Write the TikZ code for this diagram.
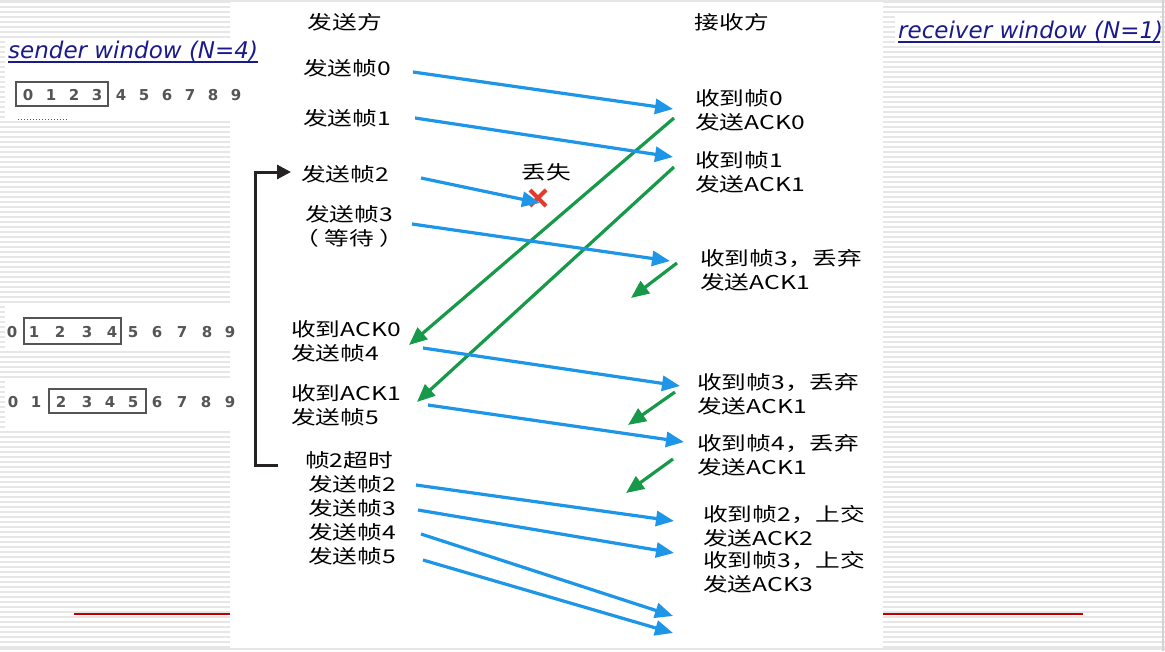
\documentclass[tikz,border=0pt]{standalone}
\usepackage{fontspec}
\setmainfont{DejaVu Sans}
\newfontfamily\cjk[FakeStretch=1.3]{Noto Sans CJK SC}
\newfontfamily\latf{DejaVu Sans}
\newfontfamily\winf{DejaVu Sans Oblique}
\usetikzlibrary{arrows.meta}
\definecolor{ablue}{HTML}{1E96E8}
\definecolor{agreen}{HTML}{17994A}
\definecolor{navyc}{HTML}{1A1A8C}
\definecolor{stripec}{HTML}{E6E6E6}
\definecolor{xred}{HTML}{E23B2E}
\definecolor{brk}{HTML}{262222}
\definecolor{digc}{HTML}{555555}
\begin{document}
\begin{tikzpicture}[x=1pt,y=-1pt,
  lbl/.style={font=\cjk\fontsize{19}{24}\selectfont, inner sep=0pt, align=center},
  rlbl/.style={font=\cjk\fontsize{19}{24}\selectfont, inner sep=0pt, anchor=west, align=left},
  winlbl/.style={font=\winf\fontsize{23}{26}\selectfont, text=navyc, inner sep=0pt, anchor=base west},
  dig/.style={font=\latf\bfseries\fontsize{15}{16}\selectfont, text=digc, inner sep=0pt},
  winbox/.style={draw=digc, line width=1.5pt},
  barrow/.style={draw=ablue, line width=3.2pt, -{Triangle[length=18pt,width=15pt]}},
  garrow/.style={draw=agreen, line width=3.2pt, -{Triangle[length=18pt,width=15pt]}},
]
\useasboundingbox (0,0) rectangle (1165,651);
\fill[white] (0,0) rectangle (1165,651);
% striped background
\foreach \y in {2,7,...,647}{
  \draw[stripec, line width=1.6pt] (0,\y) -- (230,\y) (883,\y) -- (1165,\y);
}
\fill[white] (5,38) rectangle (230,118);
\fill[white] (5,305) rectangle (230,350);
\fill[white] (5,380) rectangle (230,430);
\fill[white] (895,16) rectangle (1160,46);
\draw[stripec, line width=1.6pt] (0,1) -- (1165,1);
\draw[stripec, line width=1.6pt] (0,649) -- (1165,649);
\draw[gray!35, line width=1.5pt] (1163,0) -- (1163,651);
% red rules
\draw[red!75!black, line width=1.2pt] (74,614) -- (230,614) (883,614) -- (1083,614);

% window titles
\node[winlbl] (sw) at (8,58) {sender window (N=4)};
\draw[navyc, line width=1.5pt] (sw.base west) ++(0,4) -- ++(250,0);
\node[winlbl] (rw) at (898,38) {receiver window (N=1)};
\draw[navyc, line width=1.5pt] (rw.base west) ++(0,4) -- ++(262,0);

% sender window rows
\foreach \d/\x in {0/28,1/51,2/74,3/97,4/121,5/144,6/167,7/190,8/213,9/236}
  \node[dig] (ra\d) at (\x,95) {\d};
\draw[winbox] (16,82) rectangle (108,106);
\draw[digc, dotted, line width=1pt] (18,119) -- (68,119);
\foreach \d/\x in {0/12,1/34,2/60,3/87,4/112,5/133,6/157,7/182,8/207,9/230}
  \node[dig] (rb\d) at (\x,332) {\d};
\draw[winbox] (24,318) rectangle (121,344);
\foreach \d/\x in {0/13,1/36,2/61,3/87,4/110,5/133,6/157,7/182,8/206,9/230}
  \node[dig] (rc\d) at (\x,402) {\d};
\draw[winbox] (49,389) rectangle (146,413);

% headers
\node[lbl] (hs) at (345,22) {发送方};
\node[lbl] (hr) at (732,22) {接收方};

% sender labels
\node[lbl] (s0) at (347,68) {发送帧0};
\node[lbl] (s1) at (347,118) {发送帧1};
\node[lbl] (s2) at (345,174) {发送帧2};
\node[lbl] (s3) at (349,226) {发送帧3\\（ 等待 ）};
\node[lbl, align=left] (s4) at (346,341) {收到ACK0\\发送帧4};
\node[lbl, align=left] (s5) at (346,405) {收到ACK1\\发送帧5};
\node[lbl] (to) at (349,460) {帧2超时};
\node[lbl] (t2) at (352,484) {发送帧2};
\node[lbl] (t3) at (352,508) {发送帧3};
\node[lbl] (t4) at (352,532) {发送帧4};
\node[lbl] (t5) at (352,556) {发送帧5};

% receiver labels
\node[rlbl] (r0) at (695,110) {收到帧0\\发送ACK0};
\node[rlbl] (r1) at (695,172) {收到帧1\\发送ACK1};
\node[rlbl] (r3) at (700,270) {收到帧3，丢弃\\发送ACK1};
\node[rlbl] (r3b) at (697,394) {收到帧3，丢弃\\发送ACK1};
\node[rlbl] (r4) at (697,455) {收到帧4，丢弃\\发送ACK1};
\node[rlbl] (r2u) at (703,526) {收到帧2，上交\\发送ACK2};
\node[rlbl] (r3u) at (703,572) {收到帧3，上交\\发送ACK3};

\node[lbl] (lost) at (546,172) {丢失};

% lost mark
\coordinate (xm) at (538,198);
\draw[xred, line width=4pt] (530,190) -- (546,206) (546,190) -- (530,206);

% bracket
\coordinate (bk0) at (278,465);
\coordinate (bk1) at (255,465);
\coordinate (bk2) at (255,172);
\coordinate (bk3) at (291,172);
\draw[brk, line width=3pt, -{Triangle[length=14pt,width=14pt]}] (bk0) -- (bk1) -- (bk2) -- (bk3);

% arrow endpoints
\coordinate (a1s) at (413,72);  \coordinate (a1e) at (673,109);
\coordinate (a2s) at (415,118); \coordinate (a2e) at (673,157);
\coordinate (a3s) at (421,178); \coordinate (a3e) at (540,203);
\coordinate (a4s) at (412,224); \coordinate (a4e) at (670,261);
\coordinate (a5s) at (423,348); \coordinate (a5e) at (680,386);
\coordinate (a6s) at (428,405); \coordinate (a6e) at (684,442);
\coordinate (a7s) at (416,485); \coordinate (a7e) at (674,521);
\coordinate (a8s) at (418,510); \coordinate (a8e) at (674,553);
\coordinate (a9s) at (421,534); \coordinate (a9e) at (673,616);
\coordinate (a10s) at (423,560); \coordinate (a10e) at (673,633);

\coordinate (g1s) at (674,118); \coordinate (g1e) at (409,345);
\coordinate (g2s) at (674,167); \coordinate (g2e) at (417,402);
\coordinate (g3s) at (677,263); \coordinate (g3e) at (631,298);
\coordinate (g4s) at (675,392); \coordinate (g4e) at (628,425);
\coordinate (g5s) at (673,459); \coordinate (g5e) at (626,493);

\draw[garrow] (g1s) -- (g1e);
\draw[garrow] (g2s) -- (g2e);
\draw[garrow] (g3s) -- (g3e);
\draw[garrow] (g4s) -- (g4e);
\draw[garrow] (g5s) -- (g5e);

\draw[barrow] (a1s) -- (a1e);
\draw[barrow] (a2s) -- (a2e);
\draw[barrow] (a3s) -- (a3e);
\draw[barrow] (a4s) -- (a4e);
\draw[barrow] (a5s) -- (a5e);
\draw[barrow] (a6s) -- (a6e);
\draw[barrow] (a7s) -- (a7e);
\draw[barrow] (a8s) -- (a8e);
\draw[barrow] (a9s) -- (a9e);
\draw[barrow] (a10s) -- (a10e);
\end{tikzpicture}
\end{document}
